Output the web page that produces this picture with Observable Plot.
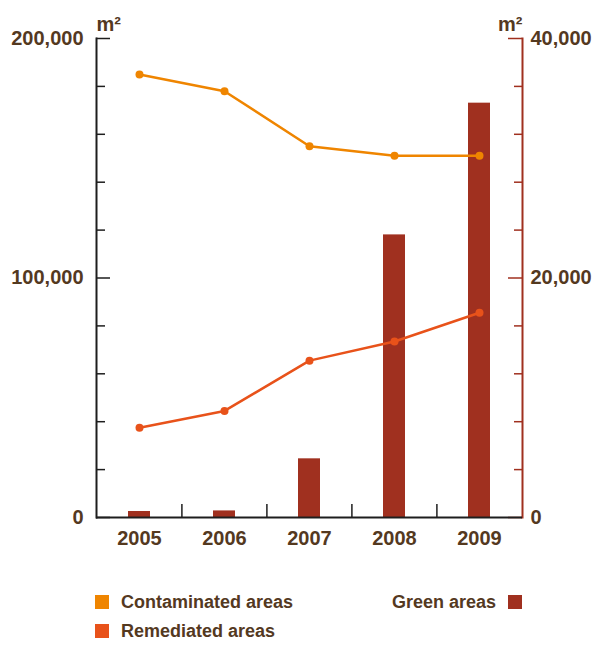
<!DOCTYPE html>
<html>
<head>
<meta charset="utf-8">
<script src="https://cdn.jsdelivr.net/npm/d3@7"></script>
<script src="https://cdn.jsdelivr.net/npm/@observablehq/plot@0.6"></script>
<style>
  html, body { margin: 0; padding: 0; background: #fff; }
  #chart { position: relative; width: 603px; height: 646px; font-family: "Liberation Sans", Arial, sans-serif; font-weight: bold; color: #54391f; }
  #chart svg { position: absolute; left: 0; top: 0; }
  .item { position: absolute; height: 15px; line-height: 15px; font-size: 18px; white-space: nowrap; }
  .swatch { position: absolute; width: 14px; height: 14px; }
</style>
</head>
<body>
<div id="chart"></div>
<script>
// Areas per year, in square metres
const years = ["2005", "2006", "2007", "2008", "2009"];
const contaminated = [185000, 178000, 155000, 151000, 151000];
const remediated = [37500, 44500, 65500, 73500, 85500];
const green = [500, 550, 4900, 23600, 34600];

// Axis ticks
const leftMajor = [0, 100000, 200000];
const leftMinor = d3.range(0, 200001, 20000).filter(d => !leftMajor.includes(d));
const rightMajor = [0, 20000, 40000];
const rightMinor = d3.range(0, 40001, 4000).filter(d => !rightMajor.includes(d));

const colors = { contaminated: "#ef8500", remediated: "#e8521a", green: "#a0301f", text: "#54391f", axis: "#1e1e1e" };

const lineData = years.flatMap((year, i) => [
  { year, series: "Contaminated areas", area: contaminated[i] },
  { year, series: "Remediated areas", area: remediated[i] }
]);
const greenData = years.map((year, i) => ({ year, area: green[i] }));

const W = 603, H = 570, mL = 96, mR = 81, mT = 38, mB = 53;
const frameW = W - mL - mR, frameH = H - mT - mB;
const step = frameW / years.length;
const font = "'Liberation Sans', Arial, sans-serif";

const base = {
  width: W, height: H,
  marginLeft: mL, marginRight: mR, marginTop: mT, marginBottom: mB,
  style: { fontFamily: font, fontWeight: "bold", fontSize: "20px", color: colors.text, background: "transparent" },
  x: { type: "band", domain: years, paddingInner: 0.74, paddingOuter: 0.37, align: 0.5, axis: null }
};

// Green areas, bars on the right-hand scale
const barsPlot = Plot.plot({
  ...base,
  y: { domain: [0, 40000], axis: null },
  marks: [
    Plot.barY(greenData, { x: "year", y: "area", fill: colors.green }),
    Plot.frame({ anchor: "right", stroke: colors.green, strokeWidth: 2 }),
    Plot.tickY(rightMinor, { y: d => d, insetLeft: frameW - 8, stroke: colors.green, strokeWidth: 1.5 }),
    Plot.tickY(rightMajor, { y: d => d, insetLeft: frameW - 14, stroke: colors.green, strokeWidth: 1.5 }),
    Plot.axisY({ anchor: "right", label: null, ticks: rightMajor, tickSize: 0, tickPadding: 8, tickFormat: d3.format(","), fontSize: "20px", fontWeight: "bold", fill: colors.text }),
    Plot.text(["m²"], { text: d => d, frameAnchor: "top-right", textAnchor: "end", dy: -22, fontSize: "20px", fontWeight: "bold", fill: colors.text })
  ]
});

// Contaminated and remediated areas, lines on the left-hand scale
const linesPlot = Plot.plot({
  ...base,
  y: { domain: [0, 200000], axis: null },
  color: { domain: ["Contaminated areas", "Remediated areas"], range: [colors.contaminated, colors.remediated] },
  marks: [
    Plot.frame({ anchor: "left", stroke: colors.axis, strokeWidth: 2 }),
    Plot.ruleY([0], { stroke: colors.axis, strokeWidth: 2 }),
    Plot.tickY(leftMinor, { y: d => d, insetRight: frameW - 9, stroke: colors.axis, strokeWidth: 1.5 }),
    Plot.tickY(leftMajor, { y: d => d, insetRight: frameW - 14, stroke: colors.axis, strokeWidth: 1.5 }),
    Plot.tickX(years.slice(1), { x: d => d, dx: -step / 2, insetTop: frameH - 13, stroke: colors.axis, strokeWidth: 1.5 }),
    Plot.axisY({ anchor: "left", label: null, ticks: leftMajor, tickSize: 0, tickPadding: 13, tickFormat: d3.format(","), fontSize: "20px", fontWeight: "bold", fill: colors.text }),
    Plot.axisX({ anchor: "bottom", label: null, tickSize: 0, tickPadding: 13, fontSize: "20px", fontWeight: "bold", fill: colors.text }),
    Plot.text(["m²"], { text: d => d, frameAnchor: "top-left", textAnchor: "start", dy: -22, fontSize: "20px", fontWeight: "bold", fill: colors.text }),
    Plot.line(lineData, { x: "year", y: "area", z: "series", stroke: "series", strokeWidth: 2.5 }),
    Plot.dot(lineData, { x: "year", y: "area", fill: "series", r: 4 })
  ]
});

const chart = document.getElementById("chart");
chart.append(barsPlot, linesPlot);

// Legend
const legend = [
  { label: "Contaminated areas", color: colors.contaminated, left: 95, top: 595, side: "left" },
  { label: "Remediated areas", color: colors.remediated, left: 95, top: 624, side: "left" },
  { label: "Green areas", color: colors.green, left: 508, top: 595, side: "right" }
];
for (const d of legend) {
  const sw = document.createElement("div");
  sw.className = "swatch";
  sw.style.left = d.left + "px";
  sw.style.top = d.top + "px";
  sw.style.background = d.color;
  chart.append(sw);
  const t = document.createElement("div");
  t.className = "item";
  t.textContent = d.label;
  t.style.top = d.top + "px";
  if (d.side === "left") t.style.left = (d.left + 26) + "px";
  else t.style.right = (603 - d.left + 12) + "px";
  chart.append(t);
}
</script>
</body>
</html>
